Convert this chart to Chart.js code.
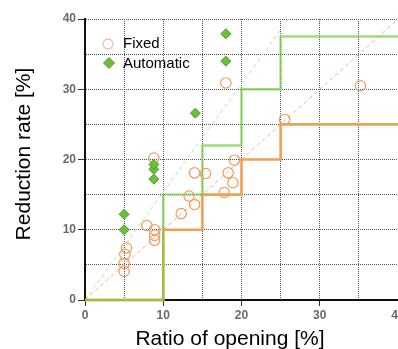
<!DOCTYPE html>
<html>
<head>
<meta charset="utf-8">
<script src="https://cdn.jsdelivr.net/npm/chart.js@4/dist/chart.umd.min.js"></script>
<style>
  html, body { margin: 0; padding: 0; overflow: hidden; background: #fff; }
  #wrap { width: 420px; height: 349px; }
</style>
</head>
<body>
<div id="wrap"><canvas id="chart" width="420" height="349"></canvas></div>
<script>
// measured points
const fixedX = [5.0, 5.0, 5.1, 5.3, 7.9, 8.9, 8.9, 8.9, 8.8, 12.3, 13.3, 14.0, 14.0, 15.4, 17.8, 18.9, 18.3, 19.1, 18.0, 25.5, 35.2]
const fixedY = [4.1, 5.2, 6.5, 7.4, 10.6, 10.0, 9.2, 8.5, 20.2, 12.3, 14.8, 13.6, 18.1, 18.0, 15.3, 16.7, 18.1, 19.9, 30.9, 25.7, 30.5]
const autoX = [5.0, 5.0, 8.8, 8.8, 8.8, 14.1, 18.0, 18.0]
const autoY = [10.0, 12.2, 17.2, 18.6, 19.3, 26.6, 34.0, 37.9]

// step lines (horizontal first, then vertical)
const stepX = [0, 10, 15, 20, 25, 40]
const fixedStepY = [0, 10, 15, 20, 25, 25]
const autoStepY = [0, 15, 22, 30, 37.5, 37.5]

// dashed reference lines
const fixedTrendX = [0, 40]
const fixedTrendY = [0, 40]
const autoTrendX = [0, 26]
const autoTrendY = [0, 40]

const xTicks = [0, 10, 20, 30, 40]
const yTicks = [0, 10, 20, 30, 40]
const xTitle = 'Ratio of opening [%]'
const yTitle = 'Reduction rate [%]'
const seriesNames = ['Fixed', 'Automatic']

const pts = (xs, ys) => xs.map((x, i) => ({ x: x, y: ys[i] }))

const orange = '#f09a62'

const overlay = {
  id: 'overlay',
  afterDraw(chart) {
    const ctx = chart.ctx
    ctx.save()
    // legend inside plot
    ctx.lineWidth = 1.3
    ctx.strokeStyle = '#f6bf9c'
    ctx.beginPath()
    ctx.arc(108, 44, 5, 0, Math.PI * 2)
    ctx.stroke()
    ctx.fillStyle = '#6cbf3a'
    ctx.strokeStyle = '#4f9a2c'
    ctx.lineWidth = 1
    ctx.beginPath()
    ctx.moveTo(109, 57.5); ctx.lineTo(114.5, 63); ctx.lineTo(109, 68.5); ctx.lineTo(103.5, 63); ctx.closePath()
    ctx.fill(); ctx.stroke()
    ctx.fillStyle = '#000'
    ctx.font = '15px "Liberation Sans", Arial, sans-serif'
    ctx.textBaseline = 'middle'
    ctx.textAlign = 'left'
    ctx.fillText(seriesNames[0], 123, 44)
    ctx.fillText(seriesNames[1], 123, 64)
    // axis titles
    ctx.font = '21px "Liberation Sans", Arial, sans-serif'
    ctx.textAlign = 'center'
    ctx.textBaseline = 'alphabetic'
    ctx.fillText(xTitle, 230, 345)
    ctx.translate(30, 154)
    ctx.rotate(-Math.PI / 2)
    ctx.fillText(yTitle, 0, 0)
    ctx.restore()
  }
}

const tickFont = { family: '"Liberation Sans", Arial, sans-serif', size: 12, weight: 'bold' }

new Chart(document.getElementById('chart'), {
  type: 'scatter',
  data: {
    datasets: [
      {
        label: seriesNames[1],
        data: pts(autoX, autoY),
        pointStyle: 'rectRot',
        pointRadius: 5,
        backgroundColor: '#6cbf3a',
        borderColor: '#4f9a2c',
        borderWidth: 1
      },
      {
        label: seriesNames[0],
        data: pts(fixedX, fixedY),
        pointStyle: 'circle',
        pointRadius: 5.2,
        backgroundColor: 'rgba(255,255,255,0)',
        borderColor: orange,
        borderWidth: 1.2
      },
      {
        label: 'auto step',
        data: pts(stepX, autoStepY),
        showLine: true,
        stepped: 'before',
        clip: 3,
        pointRadius: 0,
        borderColor: 'rgba(118,207,62,0.7)',
        borderWidth: 2.4
      },
      {
        label: 'fixed step',
        data: pts(stepX, fixedStepY),
        showLine: true,
        stepped: 'before',
        clip: 3,
        pointRadius: 0,
        borderColor: '#f0a055',
        borderWidth: 2.6
      },
      {
        label: 'fixed trend',
        data: pts(fixedTrendX, fixedTrendY),
        showLine: true,
        pointRadius: 0,
        borderColor: '#f3b48a',
        borderWidth: 1,
        borderDash: [4, 3]
      },
      {
        label: 'auto trend',
        data: pts(autoTrendX, autoTrendY),
        showLine: true,
        pointRadius: 0,
        borderColor: '#b8e6a2',
        borderWidth: 1,
        borderDash: [4, 3]
      }
    ]
  },
  options: {
    responsive: false,
    animation: false,
    events: [],
    layout: { padding: { left: 0, right: 22, top: 19, bottom: 0 } },
    plugins: { legend: { display: false }, tooltip: { enabled: false } },
    scales: {
      x: {
        type: 'linear',
        min: 0,
        max: 40,
        ticks: {
          stepSize: 5,
          autoSkip: false,
          maxRotation: 0,
          padding: 2,
          color: '#6a6a6a',
          font: tickFont,
          callback: v => xTicks.includes(v) ? String(v) : ''
        },
        grid: {
          color: '#555',
          lineWidth: 1,
          tickLength: 6,
          tickColor: c => (c.tick && xTicks.includes(c.tick.value)) ? '#333' : 'rgba(0,0,0,0)'
        },
        border: { display: true, color: '#111', width: 2, dash: [1, 1] },
        afterFit(scale) { scale.height = 49; scale.paddingLeft = 0; scale.paddingRight = 0 }
      },
      y: {
        type: 'linear',
        min: 0,
        max: 40,
        ticks: {
          stepSize: 5,
          autoSkip: false,
          padding: 2,
          color: '#6a6a6a',
          font: tickFont,
          callback: v => yTicks.includes(v) ? String(v) : ''
        },
        grid: {
          color: '#555',
          lineWidth: 1,
          tickLength: 7,
          tickColor: c => (c.tick && yTicks.includes(c.tick.value)) ? '#333' : 'rgba(0,0,0,0)'
        },
        border: { display: true, color: '#111', width: 2, dash: [1, 1] },
        afterFit(scale) { scale.width = 85; scale.paddingTop = 0; scale.paddingBottom = 0 }
      }
    }
  },
  plugins: [overlay]
})
</script>
</body>
</html>
